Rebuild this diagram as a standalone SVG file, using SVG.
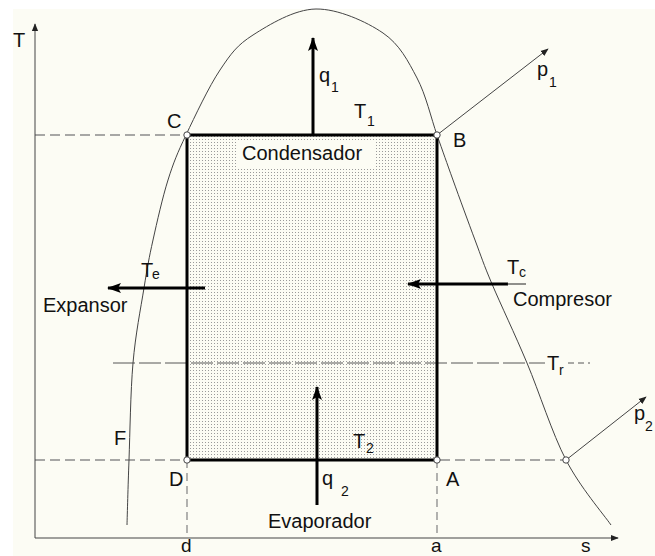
<svg xmlns="http://www.w3.org/2000/svg" width="655" height="556" viewBox="0 0 655 556">
<style>
text{font-family:"Liberation Sans",Arial,sans-serif;fill:#111;}
.lbl{font-size:20px;}
.ax{font-size:19px;}
.sub{font-size:14px;}
.dash{stroke:#8a8a8a;stroke-width:1.3;stroke-dasharray:10 5;fill:none;}
.thin{stroke:#444;stroke-width:1;fill:none;}
.thick{stroke:#000;stroke-width:3;fill:none;}
.pt{fill:#fff;stroke:#444;stroke-width:1;}
</style>
<defs>
<pattern id="dots" width="3" height="3" patternUnits="userSpaceOnUse">
<rect width="3" height="3" fill="#fcfcf4"/>
<rect x="1" y="1" width="1" height="1" fill="#9a9a9a"/>
</pattern>
<marker id="ah" viewBox="0 0 10 10" refX="9" refY="5" markerWidth="8" markerHeight="8" markerUnits="userSpaceOnUse" orient="auto">
<path d="M0,1 L10,5 L0,9 Z" fill="#222"/>
</marker>
<marker id="bh" viewBox="0 0 14 10" refX="13" refY="5" markerWidth="14" markerHeight="10" markerUnits="userSpaceOnUse" orient="auto">
<path d="M0,0 L14,5 L0,10 L3,5 Z" fill="#000"/>
</marker>
</defs>
<rect x="0" y="0" width="655" height="556" fill="#ffffff"/>
<rect x="13" y="9" width="642" height="547" fill="#fcfcf4"/>

<g id="cycle">
<rect x="187" y="135" width="250" height="325" fill="url(#dots)"/>
<rect x="238" y="141" width="136" height="26" fill="#fcfcf4"/>
</g>

<g id="guides">
<line class="dash" x1="35" y1="135" x2="186" y2="135"/>
<line class="dash" x1="35" y1="460" x2="563" y2="460"/>
<line class="dash" x1="187" y1="460" x2="187" y2="538" style="stroke-dasharray:8 5"/>
<line class="dash" x1="437" y1="460" x2="437" y2="538" style="stroke-dasharray:8 5"/>
<line x1="113" y1="363" x2="545" y2="363" stroke="#444" stroke-width="0.9" stroke-dasharray="22 4"/>
<line x1="568" y1="363" x2="590" y2="363" stroke="#444" stroke-width="0.9" stroke-dasharray="6 4"/>
</g>

<g id="axes">
<line class="thin" x1="35" y1="538" x2="35" y2="24" marker-end="url(#ah)"/>
<line class="thin" x1="35" y1="538" x2="618" y2="538" marker-end="url(#ah)"/>
</g>

<g id="curve">
<path class="thin" d="M127,525 C127.3,514.2 128,487 129,460 C130,433 130.5,391.7 133,363 C135.5,334.3 140.7,308.5 144,288 C147.3,267.5 149,258 153,240 C157,222 162.5,197.5 168,180 C173.5,162.5 177.3,153.3 186,135 C194.7,116.7 208.8,86.7 220,70 C231.2,53.3 237,45.2 253,35 C269,24.8 294.3,9.3 316,9 C337.7,8.7 366.2,21.5 383,33 C399.8,44.5 408,61 417,78 C426,95 431,118 437,135 C443,152 446.7,162.5 453,180 C459.3,197.5 468.5,222.7 475,240 C481.5,257.3 483.3,263.5 492,284 C500.7,304.5 514.7,333.7 527,363 C539.3,392.3 552,433 566,460 C580,487 603.5,514.2 611,525"/>
</g>

<g id="connectors">
<path class="thick" d="M187,135 H437 V460 H187 Z"/>
<line class="thin" x1="437" y1="135" x2="548" y2="49" marker-end="url(#ah)"/>
<line class="thin" x1="566" y1="460" x2="646" y2="397" marker-end="url(#ah)"/>
<line x1="313" y1="135" x2="313" y2="38" stroke="#000" stroke-width="3" marker-end="url(#bh)"/>
<line x1="317" y1="505" x2="317" y2="387" stroke="#000" stroke-width="3" marker-end="url(#bh)"/>
<line x1="205" y1="288" x2="108" y2="288" stroke="#000" stroke-width="3" marker-end="url(#bh)"/>
<line x1="508" y1="284" x2="408" y2="284" stroke="#000" stroke-width="3" marker-end="url(#bh)"/>
<line x1="507" y1="284" x2="526" y2="284" stroke="#222" stroke-width="1"/>
</g>

<g id="points">
<circle class="pt" cx="187" cy="135" r="3.2"/>
<circle class="pt" cx="437" cy="135" r="3.2"/>
<circle class="pt" cx="187" cy="460" r="3.2"/>
<circle class="pt" cx="437" cy="460" r="3.2"/>
<circle class="pt" cx="566" cy="460" r="3.2"/>
</g>

<g id="labels">
<text class="lbl" x="13" y="47">T</text>
<text class="ax" x="581" y="552">s</text>
<text class="ax" x="181" y="552">d</text>
<text class="ax" x="431" y="552">a</text>
<text class="lbl" x="167" y="128">C</text>
<text class="lbl" x="453" y="147">B</text>
<text class="lbl" x="169" y="486">D</text>
<text class="lbl" x="446" y="486">A</text>
<text class="lbl" x="114" y="445">F</text>
<text class="lbl" x="319" y="82">q</text><text class="sub" x="331" y="92">1</text>
<text class="lbl" x="354" y="118">T</text><text class="sub" x="367" y="126">1</text>
<text class="lbl" x="537" y="76">p</text><text class="sub" x="549" y="87">1</text>
<text class="lbl" x="322" y="485">q</text><text class="sub" x="341" y="496">2</text>
<text class="lbl" x="353" y="448">T</text><text class="sub" x="366" y="453">2</text>
<text class="lbl" x="141" y="277">T</text><text class="sub" x="152" y="279">e</text>
<text class="lbl" x="507" y="274">T</text><text class="sub" x="519" y="277">c</text>
<text class="lbl" x="547" y="370">T</text><text class="sub" x="559" y="375">r</text>
<text class="lbl" x="634" y="420">p</text><text class="sub" x="645" y="431">2</text>
<text class="lbl" x="242" y="160">Condensador</text>
<text class="lbl" x="268" y="528">Evaporador</text>
<text class="lbl" x="43" y="312">Expansor</text>
<text class="lbl" x="513" y="306">Compresor</text>
</g>
</svg>
